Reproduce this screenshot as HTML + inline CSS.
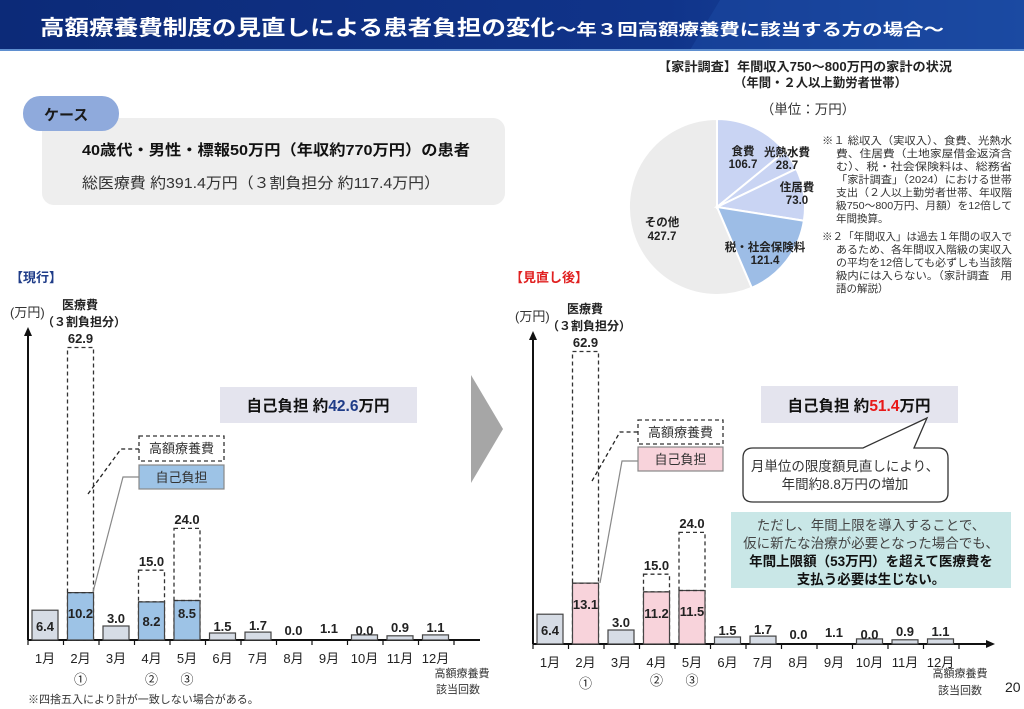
<!DOCTYPE html>
<html><head><meta charset="utf-8"><style>
html,body{margin:0;padding:0;background:#fff;width:1024px;height:709px;overflow:hidden}
svg{display:block;font-family:"Liberation Sans","Noto Sans CJK JP",sans-serif}
.b{font-weight:bold}
</style></head><body>
<svg width="1024" height="709" viewBox="0 0 1024 709" xmlns="http://www.w3.org/2000/svg">
<defs>
<linearGradient id="hg" x1="0" y1="0" x2="1" y2="0">
<stop offset="0" stop-color="#0c2a78"/><stop offset="0.65" stop-color="#10348a"/><stop offset="1" stop-color="#1c4ea6"/>
</linearGradient>
</defs>
<rect x="0" y="0" width="1024" height="50" fill="url(#hg)"/>
<polygon points="720,0 1024,0 1024,50 690,50" fill="#1a47a0" opacity="0.6"/>
<rect x="0" y="49" width="1024" height="2" fill="#5f8fd0"/>
<text x="40" y="35" fill="#fff" font-size="21" class="b" textLength="515" lengthAdjust="spacingAndGlyphs">高額療養費制度の見直しによる患者負担の変化</text>
<text x="556" y="35" fill="#fff" font-size="16" class="b" textLength="388" lengthAdjust="spacingAndGlyphs">～年３回高額療養費に該当する方の場合～</text>

<rect x="42" y="118" width="463" height="87" rx="12" fill="#eeeeee"/>
<rect x="23" y="96" width="96" height="35" rx="17" fill="#8faadc"/>
<text x="44" y="120" font-size="15" class="b" fill="#1a1a1a">ケース</text>
<text x="82" y="155" font-size="15" class="b" fill="#111" textLength="388" lengthAdjust="spacingAndGlyphs">40歳代・男性・標報50万円（年収約770万円）の患者</text>
<text x="82" y="188" font-size="15" fill="#333" textLength="358" lengthAdjust="spacingAndGlyphs">総医療費 約391.4万円（３割負担分 約117.4万円）</text>

<text x="10" y="282" font-size="13" class="b" fill="#1f3c88">【現行】</text>
<text x="510" y="282" font-size="13" class="b" fill="#e02020">【見直し後】</text>

<text x="658" y="71" font-size="12.5" class="b" fill="#222" textLength="294" lengthAdjust="spacingAndGlyphs">【家計調査】年間収入750～800万円の家計の状況</text>
<text x="734" y="87" font-size="12.5" class="b" fill="#222" textLength="173" lengthAdjust="spacingAndGlyphs">（年間・２人以上勤労者世帯）</text>
<text x="808" y="114" font-size="13.5" text-anchor="middle" fill="#333">（単位：万円）</text>
<g stroke="#fff" stroke-width="2">
<path d="M717,207 L751.8,287.8 A88,88 0 1 1 717,119 Z" fill="#ececec"/>
<path d="M717,207 L717,119 A88,88 0 0 1 785.1,151.3 Z" fill="#c9d4f3"/>
<path d="M717,207 L785.1,151.3 A88,88 0 0 1 796.3,168.8 Z" fill="#c9d4f3"/>
<path d="M717,207 L796.3,168.8 A88,88 0 0 1 803.9,220.7 Z" fill="#c9d4f3"/>
<path d="M717,207 L803.9,220.7 A88,88 0 0 1 751.8,287.8 Z" fill="#9dbde6"/>
</g>
<g font-size="11.5" class="b" fill="#222" text-anchor="middle">
<text x="743" y="155">食費</text><text x="743" y="168">106.7</text>
<text x="787" y="156">光熱水費</text><text x="787" y="169">28.7</text>
<text x="797" y="191">住居費</text><text x="797" y="204">73.0</text>
<text x="765" y="251">税・社会保険料</text><text x="765" y="264">121.4</text>
<text x="662" y="226">その他</text><text x="662" y="240">427.7</text>
</g>
<g font-size="10.5" fill="#333">
<text x="822" y="144" textLength="190" lengthAdjust="spacingAndGlyphs">※１ 総収入（実収入）、食費、光熱水</text>
<text x="836" y="157" textLength="176" lengthAdjust="spacingAndGlyphs">費、住居費（土地家屋借金返済含</text>
<text x="836" y="170" textLength="176" lengthAdjust="spacingAndGlyphs">む）、税・社会保険料は、総務省</text>
<text x="836" y="183" textLength="176" lengthAdjust="spacingAndGlyphs">「家計調査」（2024）における世帯</text>
<text x="836" y="196" textLength="176" lengthAdjust="spacingAndGlyphs">支出（２人以上勤労者世帯、年収階</text>
<text x="836" y="209" textLength="176" lengthAdjust="spacingAndGlyphs">級750～800万円、月額）を12倍して</text>
<text x="836" y="222">年間換算。</text>
<text x="822" y="240" textLength="190" lengthAdjust="spacingAndGlyphs">※２「年間収入」は過去１年間の収入で</text>
<text x="836" y="253" textLength="176" lengthAdjust="spacingAndGlyphs">あるため、各年間収入階級の実収入</text>
<text x="836" y="266" textLength="176" lengthAdjust="spacingAndGlyphs">の平均を12倍しても必ずしも当該階</text>
<text x="836" y="279" textLength="176" lengthAdjust="spacingAndGlyphs">級内には入らない。（家計調査　用</text>
<text x="836" y="292">語の解説）</text>
</g>

<polygon points="471,375 503,429 471,483" fill="#a6a6a6"/>

<g id="L">
<text x="10" y="317" font-size="13" fill="#333">(万円)</text>
<text x="80" y="309" font-size="12" class="b" text-anchor="middle" fill="#222">医療費</text>
<text x="84" y="326" font-size="12" class="b" text-anchor="middle" fill="#222">（３割負担分）</text>
<text x="80.5" y="343" font-size="13" class="b" text-anchor="middle" fill="#222">62.9</text>
<line x1="28" y1="640" x2="28" y2="334" stroke="#111" stroke-width="2"/>
<polygon points="24,336 28,327 32,336" fill="#111"/>
<line x1="28" y1="640" x2="480" y2="640" stroke="#111" stroke-width="2"/>
<g stroke="#111" stroke-width="1.2">
<line x1="28" y1="640" x2="28" y2="645"/><line x1="63.5" y1="640" x2="63.5" y2="645"/><line x1="99" y1="640" x2="99" y2="645"/><line x1="134.5" y1="640" x2="134.5" y2="645"/><line x1="170" y1="640" x2="170" y2="645"/><line x1="205.5" y1="640" x2="205.5" y2="645"/><line x1="241" y1="640" x2="241" y2="645"/><line x1="276.5" y1="640" x2="276.5" y2="645"/><line x1="312" y1="640" x2="312" y2="645"/><line x1="347.5" y1="640" x2="347.5" y2="645"/><line x1="383" y1="640" x2="383" y2="645"/><line x1="418.5" y1="640" x2="418.5" y2="645"/><line x1="454" y1="640" x2="454" y2="645"/>
</g>
<g stroke="#444" stroke-width="1.2">
<rect x="32" y="610.2" width="26" height="29.8" fill="#d6dce5"/>
<rect x="103" y="626" width="26" height="14" fill="#d6dce5"/>
<rect x="209.5" y="633" width="26" height="7" fill="#d6dce5"/>
<rect x="245" y="632.1" width="26" height="7.9" fill="#d6dce5"/>
<rect x="351.5" y="634.9" width="26" height="5.1" fill="#d6dce5"/>
<rect x="422.5" y="634.9" width="26" height="5.1" fill="#d6dce5"/>
<rect x="387" y="635.8" width="26" height="4.2" fill="#d6dce5"/>
</g>
<g stroke="#333" stroke-width="1.3" fill="none" stroke-dasharray="4,3">
<rect x="67.5" y="347.5" width="26" height="292.5"/>
<rect x="138.5" y="570.2" width="26" height="69.8"/>
<rect x="174" y="528.4" width="26" height="111.6"/>
</g>
<g font-size="13" class="b" fill="#222" text-anchor="middle">
<text x="45" y="631">6.4</text>
<text x="116" y="623">3.0</text>
<text x="151.5" y="566">15.0</text>
<text x="187" y="524">24.0</text>
<text x="222.5" y="631">1.5</text>
<text x="258" y="630">1.7</text>
<text x="293.5" y="635">0.0</text>
<text x="329" y="633">1.1</text>
<text x="364.5" y="635">0.0</text>
<text x="400" y="632">0.9</text>
<text x="435.5" y="632">1.1</text>
</g>
<g font-size="13" fill="#222" text-anchor="middle">
<text x="45" y="663">1月</text><text x="80.5" y="663">2月</text><text x="116" y="663">3月</text><text x="151.5" y="663">4月</text><text x="187" y="663">5月</text><text x="222.5" y="663">6月</text><text x="258" y="663">7月</text><text x="293.5" y="663">8月</text><text x="329" y="663">9月</text><text x="364.5" y="663">10月</text><text x="400" y="663">11月</text><text x="435.5" y="663">12月</text>
<text x="80.5" y="684">①</text><text x="151.5" y="684">②</text><text x="187" y="684">③</text>
</g>
<g font-size="11" fill="#333" text-anchor="middle">
<text x="462" y="677">高額療養費</text><text x="458" y="693">該当回数</text>
</g>
</g>
<g stroke="#444" stroke-width="1.2" fill="#9dc3e6">
<rect x="67.5" y="592.6" width="26" height="47.4"/>
<rect x="138.5" y="601.9" width="26" height="38.1"/>
<rect x="174" y="600.5" width="26" height="39.5"/>
</g>
<g stroke="#333" stroke-width="1.2" stroke-dasharray="4,3"><line x1="67.5" y1="592.6" x2="93.5" y2="592.6"/><line x1="138.5" y1="601.9" x2="164.5" y2="601.9"/><line x1="174" y1="600.5" x2="200" y2="600.5"/></g>
<g font-size="13" class="b" fill="#222" text-anchor="middle">
<text x="80.5" y="618">10.2</text><text x="151.5" y="626">8.2</text><text x="187" y="618">8.5</text>
</g>
<polyline points="88,494 121,449 139,449" fill="none" stroke="#222" stroke-width="1.3" stroke-dasharray="4,3"/>
<polyline points="93,592 123,477 139,477" fill="none" stroke="#888" stroke-width="1.2"/>
<rect x="139" y="436" width="85" height="25" fill="#fff" stroke="#333" stroke-width="1.3" stroke-dasharray="4,3"/>
<text x="181.5" y="453" font-size="13" text-anchor="middle" fill="#333">高額療養費</text>
<rect x="139" y="465" width="85" height="24" fill="#9dc3e6" stroke="#888" stroke-width="1.2"/>
<text x="181.5" y="482" font-size="13" text-anchor="middle" fill="#333">自己負担</text>
<rect x="220" y="387" width="197" height="36" fill="#e4e4ee"/>
<text x="318" y="411" font-size="15.5" class="b" text-anchor="middle" fill="#111">自己負担 約<tspan fill="#1f3c88">42.6</tspan>万円</text>

<g transform="translate(505,4)">
<text x="10" y="317" font-size="13" fill="#333">(万円)</text>
<text x="80" y="309" font-size="12" class="b" text-anchor="middle" fill="#222">医療費</text>
<text x="84" y="326" font-size="12" class="b" text-anchor="middle" fill="#222">（３割負担分）</text>
<text x="80.5" y="343" font-size="13" class="b" text-anchor="middle" fill="#222">62.9</text>
<line x1="28" y1="640" x2="28" y2="334" stroke="#111" stroke-width="2"/>
<polygon points="24,336 28,327 32,336" fill="#111"/>
<line x1="28" y1="640" x2="482" y2="640" stroke="#111" stroke-width="2"/>
<polygon points="481,636 490,640 481,644" fill="#111"/>
<g stroke="#111" stroke-width="1.2">
<line x1="28" y1="640" x2="28" y2="645"/><line x1="63.5" y1="640" x2="63.5" y2="645"/><line x1="99" y1="640" x2="99" y2="645"/><line x1="134.5" y1="640" x2="134.5" y2="645"/><line x1="170" y1="640" x2="170" y2="645"/><line x1="205.5" y1="640" x2="205.5" y2="645"/><line x1="241" y1="640" x2="241" y2="645"/><line x1="276.5" y1="640" x2="276.5" y2="645"/><line x1="312" y1="640" x2="312" y2="645"/><line x1="347.5" y1="640" x2="347.5" y2="645"/><line x1="383" y1="640" x2="383" y2="645"/><line x1="418.5" y1="640" x2="418.5" y2="645"/><line x1="454" y1="640" x2="454" y2="645"/>
</g>
<g stroke="#444" stroke-width="1.2">
<rect x="32" y="610.2" width="26" height="29.8" fill="#d6dce5"/>
<rect x="103" y="626" width="26" height="14" fill="#d6dce5"/>
<rect x="209.5" y="633" width="26" height="7" fill="#d6dce5"/>
<rect x="245" y="632.1" width="26" height="7.9" fill="#d6dce5"/>
<rect x="351.5" y="634.9" width="26" height="5.1" fill="#d6dce5"/>
<rect x="422.5" y="634.9" width="26" height="5.1" fill="#d6dce5"/>
<rect x="387" y="635.8" width="26" height="4.2" fill="#d6dce5"/>
</g>
<g stroke="#333" stroke-width="1.3" fill="none" stroke-dasharray="4,3">
<rect x="67.5" y="347.5" width="26" height="292.5"/>
<rect x="138.5" y="570.2" width="26" height="69.8"/>
<rect x="174" y="528.4" width="26" height="111.6"/>
</g>
<g stroke="#444" stroke-width="1.2" fill="#f8d3db">
<rect x="67.5" y="579.1" width="26" height="60.9"/>
<rect x="138.5" y="587.9" width="26" height="52.1"/>
<rect x="174" y="586.5" width="26" height="53.5"/>
</g>
<g stroke="#333" stroke-width="1.2" stroke-dasharray="4,3"><line x1="67.5" y1="579.1" x2="93.5" y2="579.1"/><line x1="138.5" y1="587.9" x2="164.5" y2="587.9"/><line x1="174" y1="586.5" x2="200" y2="586.5"/></g>
<g font-size="13" class="b" fill="#222" text-anchor="middle">
<text x="45" y="631">6.4</text>
<text x="80.5" y="605">13.1</text>
<text x="116" y="623">3.0</text>
<text x="151.5" y="614">11.2</text>
<text x="187" y="612">11.5</text>
<text x="151.5" y="566">15.0</text>
<text x="187" y="524">24.0</text>
<text x="222.5" y="631">1.5</text>
<text x="258" y="630">1.7</text>
<text x="293.5" y="635">0.0</text>
<text x="329" y="633">1.1</text>
<text x="364.5" y="635">0.0</text>
<text x="400" y="632">0.9</text>
<text x="435.5" y="632">1.1</text>
</g>
<g font-size="13" fill="#222" text-anchor="middle">
<text x="45" y="663">1月</text><text x="80.5" y="663">2月</text><text x="116" y="663">3月</text><text x="151.5" y="663">4月</text><text x="187" y="663">5月</text><text x="222.5" y="663">6月</text><text x="258" y="663">7月</text><text x="293.5" y="663">8月</text><text x="329" y="663">9月</text><text x="364.5" y="663">10月</text><text x="400" y="663">11月</text><text x="435.5" y="663">12月</text>
<text x="80.5" y="684">①</text><text x="151.5" y="681">②</text><text x="187" y="681">③</text>
</g>
<g font-size="11" fill="#333" text-anchor="middle">
<text x="455" y="673">高額療養費</text><text x="455" y="690">該当回数</text>
</g>
</g>
<polyline points="592,481 620,432 638,432" fill="none" stroke="#222" stroke-width="1.3" stroke-dasharray="4,3"/>
<polyline points="600,583 622,461 638,461" fill="none" stroke="#888" stroke-width="1.2"/>
<rect x="638" y="420" width="85" height="24" fill="#fff" stroke="#333" stroke-width="1.3" stroke-dasharray="4,3"/>
<text x="680.5" y="437" font-size="13" text-anchor="middle" fill="#333">高額療養費</text>
<rect x="638" y="447" width="85" height="24" fill="#f8d3db" stroke="#888" stroke-width="1.2"/>
<text x="680.5" y="464" font-size="13" text-anchor="middle" fill="#333">自己負担</text>
<rect x="761" y="386" width="197" height="37" fill="#e4e4ee"/>
<text x="859" y="411" font-size="15.5" class="b" text-anchor="middle" fill="#111">自己負担 約<tspan fill="#e81818">51.4</tspan>万円</text>
<path d="M753,448 L863,448 L927,418 L914,448 L938,448 Q948,448 948,458 L948,493 Q948,502 938,502 L753,502 Q743,502 743,493 L743,458 Q743,448 753,448 Z" fill="#fff" stroke="#333" stroke-width="1.3"/>
<text x="845" y="471" font-size="13.5" text-anchor="middle" fill="#333">月単位の限度額見直しにより、</text>
<text x="845" y="489" font-size="13.5" text-anchor="middle" fill="#333">年間約8.8万円の増加</text>
<rect x="731" y="512" width="280" height="76" fill="#c9e7e7"/>
<g font-size="13.5" text-anchor="middle" fill="#444">
<text x="871" y="530">ただし、年間上限を導入することで、</text>
<text x="871" y="548">仮に新たな治療が必要となった場合でも、</text>
<text x="871" y="566" class="b" fill="#111">年間上限額（53万円）を超えて医療費を</text>
<text x="871" y="584" class="b" fill="#111">支払う必要は生じない。</text>
</g>
<text x="1005" y="692" font-size="14" fill="#222">20</text>
<text x="28" y="703" font-size="11" fill="#333">※四捨五入により計が一致しない場合がある。</text>
</svg>
</body></html>
